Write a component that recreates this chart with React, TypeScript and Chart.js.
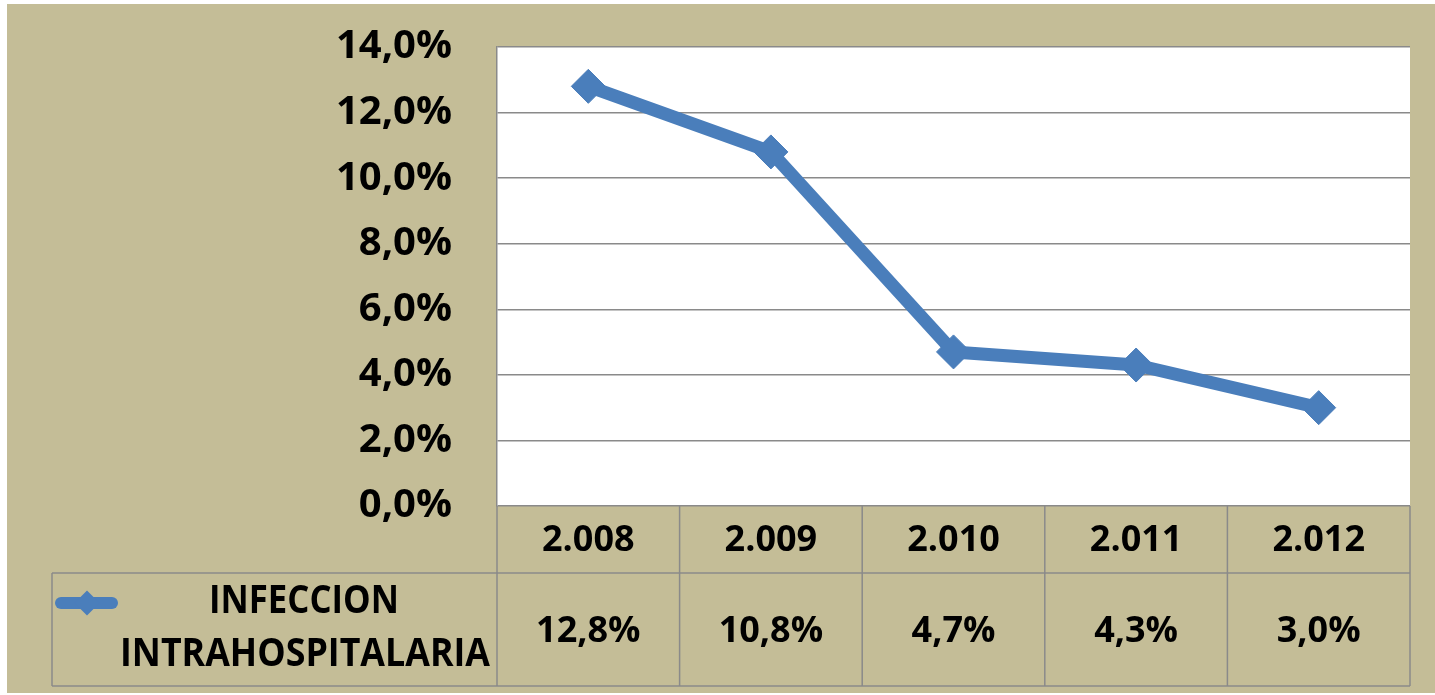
import React, { useEffect, useRef } from 'react';
import { Chart, registerables } from 'chart.js';

Chart.register(...registerables);

// ---- data ----
const years = ['2.008', '2.009', '2.010', '2.011', '2.012'];
const infectionRates = [0.128, 0.108, 0.047, 0.043, 0.03];
const seriesLabelLines = ['INFECCION', 'INTRAHOSPITALARIA'];
const yMin = 0;
const yMax = 0.14;
const yStep = 0.02;

// ---- styles ----
const W = 1435;
const H = 695;
const TAN = '#c4bd97';
const GRID = '#8a8a8a';
const BLUE = '#4a7ebb';
const FONT = '"Open Sans", "Noto Sans", sans-serif';

const fmt = (v: number) => (v * 100).toFixed(1).replace('.', ',') + '%';

const bgPlugin = {
  id: 'bgPlugin',
  beforeDraw(chart: any) {
    const { ctx, chartArea: a } = chart;
    ctx.save();
    ctx.fillStyle = '#ffffff';
    ctx.fillRect(0, 0, W, H);
    ctx.fillStyle = TAN;
    ctx.fillRect(7, 4, W - 7, 689);
    ctx.fillStyle = '#ffffff';
    ctx.fillRect(a.left, a.top, a.right - a.left, a.bottom - a.top);
    ctx.restore();
  },
};

const tablePlugin = {
  id: 'tablePlugin',
  afterDraw(chart: any) {
    const { ctx, chartArea: a } = chart;
    const xs = chart.scales.x;
    const n = years.length;
    const step = (a.right - a.left) / n;
    const rowTop = a.bottom;
    const row1 = a.bottom + 67;
    const row2 = row1 + 113;
    const legendLeft = 52;

    ctx.save();
    ctx.strokeStyle = GRID;
    ctx.lineWidth = 1.5;
    ctx.beginPath();
    ctx.moveTo(legendLeft, row1);
    ctx.lineTo(a.right, row1);
    ctx.moveTo(legendLeft, row2);
    ctx.lineTo(a.right, row2);
    for (let i = 0; i <= n; i++) {
      const xx = a.left + i * step;
      ctx.moveTo(xx, rowTop);
      ctx.lineTo(xx, row2);
    }
    ctx.moveTo(legendLeft, row1);
    ctx.lineTo(legendLeft, row2);
    ctx.stroke();

    // values row
    ctx.fillStyle = '#000';
    ctx.textAlign = 'center';
    ctx.textBaseline = 'middle';
    ctx.font = `bold 36px ${FONT}`;
    const midY = (row1 + row2) / 2 + 2;
    infectionRates.forEach((v, i) => {
      ctx.fillText(fmt(v), xs.getPixelForValue(i), midY);
    });

    // legend key
    const ly = row1 + 30;
    ctx.strokeStyle = BLUE;
    ctx.lineWidth = 12;
    ctx.lineCap = 'round';
    ctx.beginPath();
    ctx.moveTo(61, ly);
    ctx.lineTo(112, ly);
    ctx.stroke();
    ctx.fillStyle = BLUE;
    ctx.beginPath();
    const cx = 87;
    const r = 12.5;
    ctx.moveTo(cx - r, ly);
    ctx.lineTo(cx, ly - r);
    ctx.lineTo(cx + r, ly);
    ctx.lineTo(cx, ly + r);
    ctx.closePath();
    ctx.fill();

    // legend text
    ctx.fillStyle = '#000';
    ctx.font = `bold 39px ${FONT}`;
    ctx.fillText(seriesLabelLines[0], 304, row1 + 29, 190);
    ctx.fillText(seriesLabelLines[1], 305, row1 + 82, 370);
    ctx.restore();
  },
};

export default function App() {
  const ref = useRef<HTMLCanvasElement>(null);

  useEffect(() => {
    if (!ref.current) return;
    const chart = new Chart(ref.current, {
      type: 'line',
      data: {
        labels: years,
        datasets: [
          {
            label: seriesLabelLines.join(' '),
            data: infectionRates,
            borderColor: BLUE,
            backgroundColor: BLUE,
            borderWidth: 13,
            borderJoinStyle: 'round',
            pointStyle: 'rectRot',
            pointRadius: 17,
            pointBackgroundColor: BLUE,
            pointBorderColor: BLUE,
            pointBorderWidth: 1,
            tension: 0,
            clip: false,
          } as any,
        ],
      },
      options: {
        animation: false,
        responsive: false,
        devicePixelRatio: 1,
        events: [],
        layout: { padding: { top: 47, right: 25, bottom: 122, left: 0 } },
        plugins: {
          legend: { display: false },
          tooltip: { enabled: false },
          title: { display: false },
        },
        scales: {
          x: {
            type: 'category',
            offset: true,
            grid: { display: false, drawTicks: false },
            border: { display: false },
            ticks: {
              color: '#000',
              font: { family: FONT, size: 36, weight: 'bold' },
              padding: 13,
              maxRotation: 0,
              autoSkip: false,
            },
            afterFit: (scale: any) => {
              scale.height = 67;
              scale.paddingLeft = 0;
              scale.paddingRight = 0;
            },
          },
          y: {
            min: yMin,
            max: yMax,
            grid: { color: GRID, lineWidth: 1.5, drawTicks: false },
            border: { display: true, color: GRID, width: 1.5 },
            ticks: {
              stepSize: yStep,
              color: '#000',
              font: { family: FONT, size: 40, weight: 'bold' },
              padding: 45,
              callback: (v: any) => fmt(Number(v)),
            },
            afterFit: (scale: any) => {
              scale.width = 497;
              scale.paddingTop = 0;
              scale.paddingBottom = 0;
            },
          },
        },
      } as any,
      plugins: [bgPlugin, tablePlugin],
    });
    return () => chart.destroy();
  }, []);

  return (
    <div style={{ position: 'absolute', left: 0, top: 0, width: W, height: H }}>
      <canvas ref={ref} width={W} height={H} style={{ display: 'block', width: W, height: H }} />
    </div>
  );
}
